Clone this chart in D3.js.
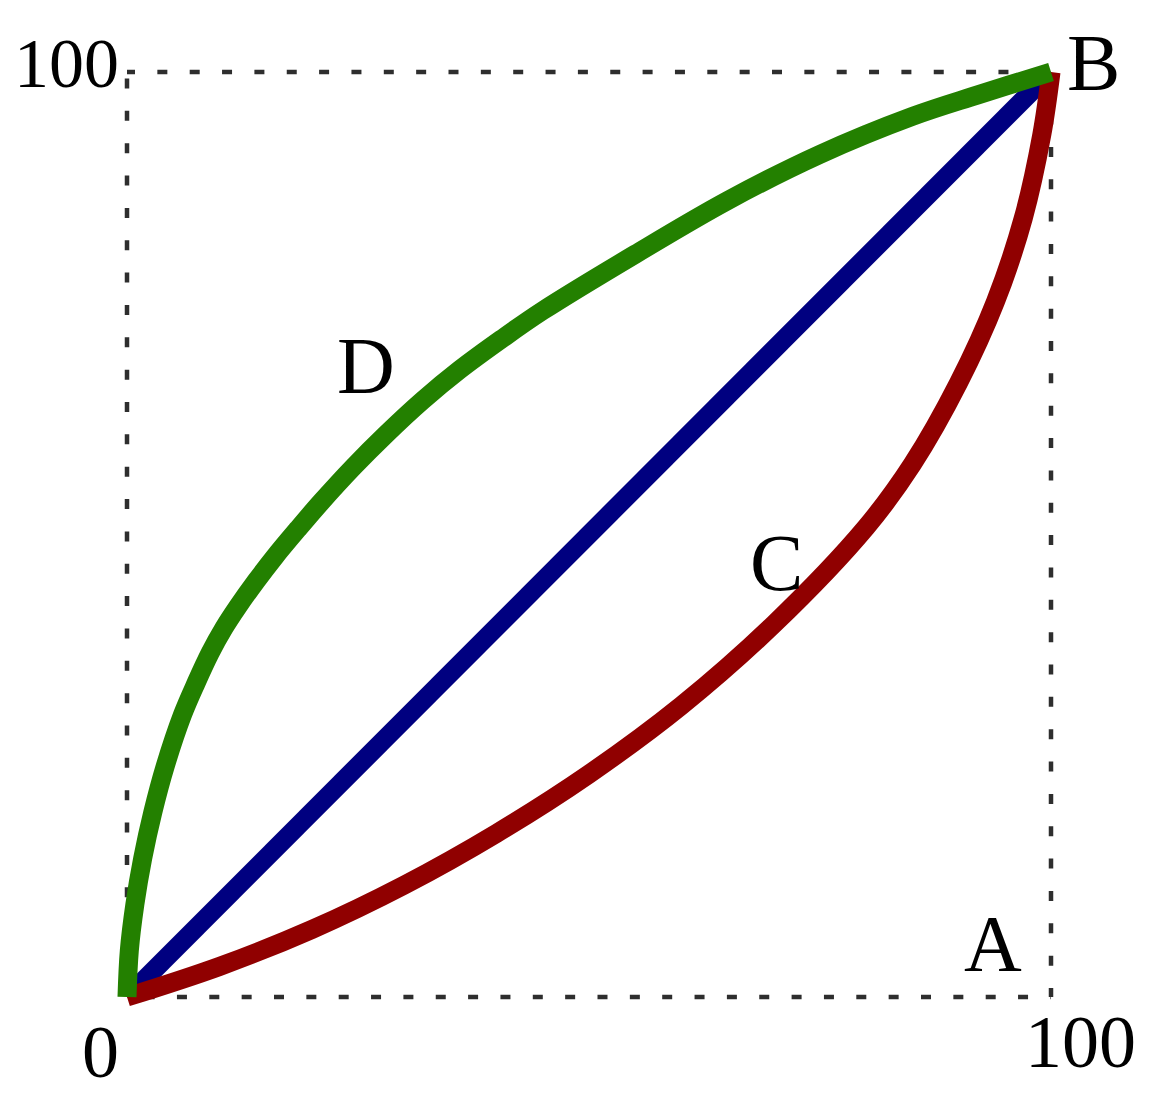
<!DOCTYPE html>
<html>
<head>
<meta charset="utf-8">
<script src="https://cdn.jsdelivr.net/npm/d3@7"></script>
<style>
  html, body { margin: 0; padding: 0; background: #fff; }
  svg { display: block; }
  text { font-family: "Liberation Serif", "Times New Roman", serif; fill: #000; }
</style>
</head>
<body>
<script>
// ---- data ----
const diagX = [0, 100];
const diagY = [0, 100];

const curveCX = [0, 10, 20, 30, 40, 50, 60, 70, 80, 85, 90, 94, 97, 99, 100];
const curveCY = [0, 3.3, 7.3, 12.1, 17.7, 24.1, 31.5, 40.3, 50.8, 57.6, 66.4, 75.2, 84.2, 93.2, 100];

const curveDX = [0, 0.25, 0.85, 1.7, 2.8, 4.15, 6, 7.5, 9, 10.5, 12, 14, 16, 18.5, 21, 24.5, 28, 32, 36, 40.5, 45, 55, 65, 75, 85, 92, 100];
const curveDY = [0, 5, 10, 15, 20, 25, 30.5, 34.0, 37.2, 39.9, 42.2, 45.0, 47.6, 50.6, 53.5, 57.3, 60.8, 64.5, 67.8, 71.1, 74.2, 80.3, 86.1, 91.1, 95.2, 97.5, 100];

const axisTicks = ["0", "100"];
const pointLabels = ["A", "B", "C", "D"];

// ---- layout ----
const W = 1166, H = 1095;
const svg = d3.select("body").append("svg").attr("width", W).attr("height", H);

const x = d3.scaleLinear().domain([0, 100]).range([127, 1051]);
const y = d3.scaleLinear().domain([0, 100]).range([997, 72]);

const period = 32.35, dash = 10;
function dotted(x1, y1, x2, y2, firstCenter) {
  const start = firstCenter - dash / 2;
  const off = ((period - start) % period + period) % period;
  svg.append("line")
    .attr("x1", x1).attr("y1", y1).attr("x2", x2).attr("y2", y2)
    .attr("stroke", "#2e2e2e").attr("stroke-width", 4.5)
    .attr("stroke-dasharray", dash + " " + (period - dash))
    .attr("stroke-dashoffset", off);
}
dotted(x(0), y(100), x(100), y(100), 3);     // top
dotted(x(0), y(0), x(100), y(0), 22.6);      // bottom
dotted(x(0), y(0), x(0), y(100), 7.7);       // left
dotted(x(100), y(0), x(100), y(100), 4);     // right

const line = d3.line()
  .x(d => x(d[0])).y(d => y(d[1]))
  .curve(d3.curveCatmullRom.alpha(0.5));

const lw = 19;
svg.append("path")
  .attr("d", line(diagX.map((v, i) => [v, diagY[i]])))
  .attr("fill", "none").attr("stroke", "#000080").attr("stroke-width", lw);
svg.append("path")
  .attr("d", line(curveCX.map((v, i) => [v, curveCY[i]])))
  .attr("fill", "none").attr("stroke", "#900000").attr("stroke-width", lw);
svg.append("path")
  .attr("d", line(curveDX.map((v, i) => [v, curveDY[i]])))
  .attr("fill", "none").attr("stroke", "#238000").attr("stroke-width", lw);

// axis tick labels
svg.append("text").text(axisTicks[1]).attr("x", 119).attr("y", 87)
  .attr("text-anchor", "end").attr("font-size", 70);
svg.append("text").text(axisTicks[0]).attr("x", 82).attr("y", 1077)
  .attr("font-size", 74);
svg.append("text").text(axisTicks[1]).attr("x", 1025).attr("y", 1067)
  .attr("font-size", 74);

// point labels
const lblPos = [[964, 971], [1067, 90], [750, 590], [337, 393]];
pointLabels.forEach((t, i) => {
  svg.append("text").text(t).attr("x", lblPos[i][0]).attr("y", lblPos[i][1])
    .attr("font-size", 80);
});
</script>
</body>
</html>
